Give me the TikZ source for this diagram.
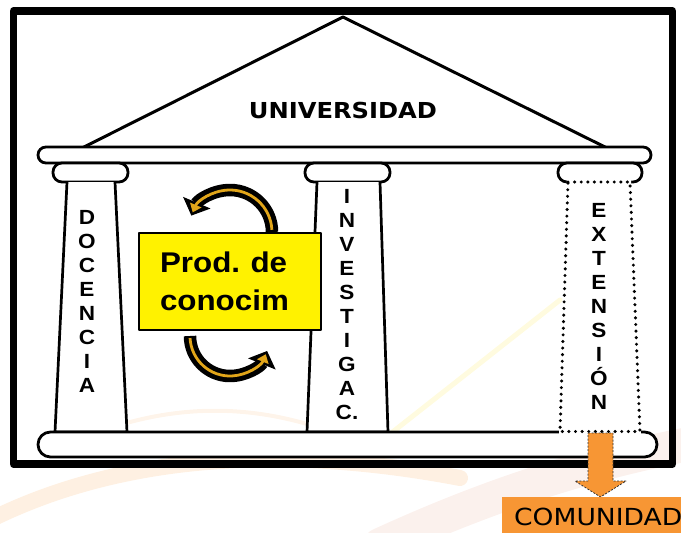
\documentclass[tikz,border=0pt]{standalone}
\usepackage{graphicx}
\usepackage{fontspec}
\setmainfont{Liberation Sans}
\newfontfamily\dejavu{DejaVu Sans}
\usetikzlibrary{arrows.meta}
\definecolor{gold}{RGB}{225,165,25}
\definecolor{orng}{RGB}{247,150,52}
\definecolor{swpink}{RGB}{225,140,110}
\newcommand{\hs}[1]{\scalebox{1.1}[1]{#1}}
\frenchspacing
\begin{document}
\begin{tikzpicture}[x=1pt,y=-1pt,line join=round,
  edge/.style={line width=2.7pt,draw=black,fill=white},
  roundbar/.style={line width=2.8pt,draw=black,fill=white,rounded corners=#1},
  colletter/.style={anchor=base,inner sep=0pt,font=\bfseries\fontsize{20.5}{20.5}\selectfont},
  arrblack/.style={line width=12.5pt,draw=black,-{Triangle[length=14pt,width=29pt]}},
  arrgold/.style={line width=2.8pt,draw=gold,shorten >=3.5pt,-{Triangle[length=8pt,width=12pt]}},
  swoosh/.style={line cap=round,opacity=#1}]
\useasboundingbox (0,0) rectangle (681,533);
% faint background swooshes
\draw[swoosh=0.14,orng,line width=16pt] (-20,525) .. controls (100,462) and (260,440) .. (460,478);
\draw[swoosh=0.10,orng,line width=4pt] (110,428) .. controls (180,405) and (250,405) .. (320,428);
\draw[swoosh=0.12,swpink,line width=34pt] (380,545) .. controls (500,490) and (600,460) .. (710,440);
\draw[swoosh=0.13,yellow!80!orange,line width=5pt] (385,438) -- (560,300);
% frame
\draw[line width=7.5pt] (13.5,11) rectangle (672.5,464);
% roof
\draw[line width=3pt] (82,148) -- (343,17) -- (607,148);
\node[inner sep=0pt,anchor=base,font=\dejavu\bfseries\fontsize{22}{22}\selectfont] (univ) at (343,118) {\hs{UNIVERSIDAD}};
% entablature and capitals
\draw[roundbar=7.9pt] (38,147) rectangle (651,163);
\draw[roundbar=9pt] (53,163) rectangle (128,182);
\draw[roundbar=9pt] (305,163) rectangle (390,182);
\draw[roundbar=9pt] (558,163) rectangle (642,182);
% solid columns
\draw[edge] (67,182) -- (55,432) -- (127,432) -- (115,182);
\draw[edge] (317,182) -- (307,432) -- (388,432) -- (380,182);
% base
\draw[roundbar=12.4pt] (38,432) rectangle (657,457);
% dotted column
\fill[white] (567,179.8) -- (631,179.8) -- (641,434) -- (559,434) -- cycle;
\draw[line width=3.4pt,line cap=round,dash pattern=on 0pt off 6.6pt] (568,182) -- (630,182) -- (640,431.5) -- (560,431.5) -- cycle;
% orange arrow down to COMUNIDAD
\draw[fill=orng,draw=black!80,line width=0.8pt,dash pattern=on 2pt off 1.5pt] (588,433) -- (613,433) -- (613,481) -- (626,481) -- (600.5,497) -- (575,481) -- (588,481) -- cycle;
\fill[orng] (502,497) rectangle (681,533);
\node[anchor=base west,inner sep=0pt,font=\dejavu\fontsize{23.5}{23.5}\selectfont] (comu) at (514,525.5) {\scalebox{1.13}[1]{COMUNIDAD}};
% letters
\foreach \l [count=\i] in {D,O,C,E,N,C,I,A}
  \node[colletter] (doc\i) at (87,{224+24.1*(\i-1)}) {\hs{\l}};
\foreach \l [count=\i] in {I,N,V,E,S,T,I,G,A,C.}
  \node[colletter] (inv\i) at (347,{203+24.1*(\i-1)}) {\hs{\l}};
\foreach \l [count=\i] in {E,X,T,E,N,S,I,Ó,N}
  \node[colletter] (ext\i) at (599,{217+24.1*(\i-1)}) {\hs{\l}};
% knowledge box
\node[draw=black,line width=1.8pt,fill=yellow,minimum width=182pt,minimum height=97pt,inner sep=0pt,
  text width=140pt,align=left,
  font=\bfseries\fontsize{28.5}{38}\selectfont] (prod) at (230,281.5) {\hs{Prod.\ de}\\\hs{conocim}};
% curved arrows
\draw[arrblack] (272,232) arc[start angle=0,end angle=157,radius=42pt];
\draw[arrgold] (271.9,229.8) arc[start angle=3,end angle=157,radius=42pt];
\draw[arrblack] (190,336) arc[start angle=180,end angle=338,radius=40pt];
\draw[arrgold] (190.05,338.1) arc[start angle=183,end angle=338,radius=40pt];
\end{tikzpicture}
\end{document}
